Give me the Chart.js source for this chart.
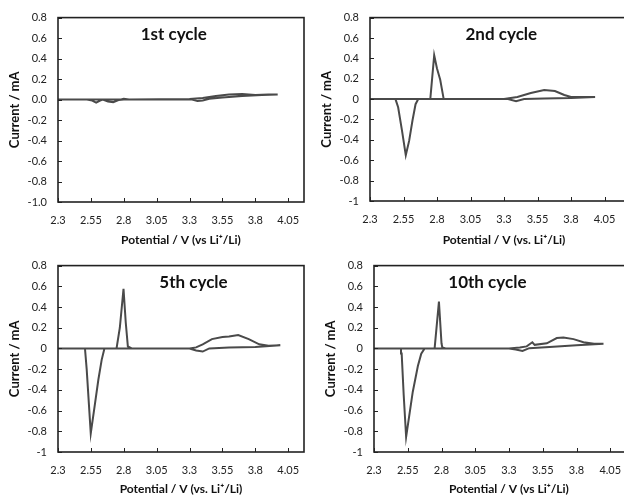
<!DOCTYPE html>
<html>
<head>
<meta charset="utf-8">
<script src="https://cdn.jsdelivr.net/npm/chart.js@4.4.0/dist/chart.umd.min.js"></script>
<style>
  html, body { margin: 0; padding: 0; background: #fff; overflow: hidden; }
  body { width: 624px; height: 497px; position: relative; }
  canvas { position: absolute; }
</style>
</head>
<body>
<canvas id="c1" width="312" height="248" style="left:0;top:0"></canvas>
<canvas id="c2" width="334" height="248" style="left:312px;top:0"></canvas>
<canvas id="c5" width="312" height="249" style="left:0;top:248px"></canvas>
<canvas id="c10" width="336" height="249" style="left:316px;top:248px"></canvas>
<script>
// tick labels on the potential axis
const xTickValues = [2.3, 2.55, 2.8, 3.05, 3.3, 3.55, 3.8, 4.05];

// 1st cycle: cathodic sweep from 3.97 V down to 2.3 V, then anodic sweep back
const cycle1Potential = [3.97, 3.85, 3.7, 3.55, 3.45, 3.4, 3.36, 3.32, 3.0, 2.8, 2.76, 2.72, 2.68, 2.64, 2.62, 2.59, 2.56, 2.52, 2.3,
  2.3, 2.78, 2.8, 2.84, 3.3, 3.4, 3.5, 3.6, 3.7, 3.8, 3.9, 3.97];
const cycle1Current = [0.05, 0.045, 0.035, 0.02, 0.008, -0.01, -0.015, 0, 0, 0, -0.005, -0.025, -0.02, 0, -0.01, -0.03, -0.01, 0, 0,
  0, 0, 0.008, 0, 0.005, 0.015, 0.035, 0.05, 0.055, 0.045, 0.05, 0.05];

// 2nd cycle
const cycle2Potential = [3.98, 3.8, 3.6, 3.45, 3.39, 3.33, 3.0, 2.66, 2.64, 2.617, 2.592, 2.567, 2.54, 2.51, 2.49, 2.3,
  2.3, 2.75, 2.779, 2.8, 2.824, 2.85, 3.3, 3.4, 3.5, 3.6, 3.68, 3.75, 3.8, 3.9, 3.98];
const cycle2Current = [0.02, 0.01, 0.005, 0, -0.02, 0, 0, 0, -0.05, -0.21, -0.41, -0.55, -0.32, -0.08, 0, 0,
  0, 0, 0.43, 0.3, 0.19, 0, 0, 0.02, 0.06, 0.09, 0.08, 0.04, 0.02, 0.02, 0.02];

// 5th cycle
const cycle5Potential = [3.99, 3.8, 3.6, 3.45, 3.4, 3.35, 3.3, 2.8, 2.653, 2.632, 2.607, 2.582, 2.549, 2.518, 2.505, 2.3,
  2.3, 2.745, 2.77, 2.798, 2.815, 2.831, 2.86, 3.3, 3.35, 3.4, 3.47, 3.55, 3.6, 3.67, 3.75, 3.83, 3.9, 3.99];
const cycle5Current = [0.03, 0.015, 0.008, 0, -0.03, -0.02, 0, 0, 0, -0.11, -0.3, -0.525, -0.82, -0.2, 0, 0,
  0, 0, 0.2, 0.575, 0.25, 0.02, 0, 0, 0.01, 0.04, 0.09, 0.11, 0.115, 0.13, 0.09, 0.04, 0.025, 0.03];

// 10th cycle
const cycle10Potential = [4.0, 3.8, 3.6, 3.45, 3.4, 3.35, 3.3, 2.8, 2.675, 2.65, 2.625, 2.587, 2.538, 2.52, 2.505, 2.5, 2.3,
  2.3, 2.749, 2.781, 2.8, 2.806, 2.83, 3.3, 3.38, 3.431, 3.473, 3.49, 3.58, 3.654, 3.703, 3.778, 3.852, 3.93, 4.0];
const cycle10Current = [0.045, 0.03, 0.015, 0.003, -0.025, -0.01, 0, 0, 0, -0.05, -0.17, -0.42, -0.855, -0.45, -0.05, 0, 0,
  0, 0, 0.452, 0.05, 0.01, 0, 0, 0.01, 0.02, 0.06, 0.035, 0.05, 0.1, 0.105, 0.09, 0.06, 0.045, 0.045];

const panelTitles = ["1st cycle", "2nd cycle", "5th cycle", "10th cycle"];
const xTitles = ["Potential / V (vs Li\u207A/Li)", "Potential / V (vs. Li\u207A/Li)",
  "Potential / V (vs. Li\u207A/Li)", "Potential / V (vs Li\u207A/Li)"];

const FONT = "Lato, 'Open Sans', sans-serif";
const INK = "#222";

const framePlugin = {
  id: "frame",
  afterDraw(chart, args, opts) {
    const { ctx, chartArea: a, scales } = chart;
    ctx.save();
    ctx.strokeStyle = INK;
    ctx.lineWidth = 1;
    // inward tick marks
    ctx.beginPath();
    scales.x.ticks.forEach(t => {
      const px = Math.round(scales.x.getPixelForValue(t.value)) + 0.5;
      ctx.moveTo(px, a.bottom);
      ctx.lineTo(px, a.bottom - 4);
    });
    scales.y.ticks.forEach(t => {
      const py = Math.round(scales.y.getPixelForValue(t.value)) + 0.5;
      ctx.moveTo(a.left, py);
      ctx.lineTo(a.left + 4, py);
    });
    ctx.stroke();
    ctx.lineWidth = 1.6;
    ctx.strokeRect(a.left, a.top, a.right - a.left, a.bottom - a.top);
    // panel label
    ctx.fillStyle = "#111";
    ctx.font = "bold 17px " + FONT;
    ctx.textAlign = "center";
    ctx.textBaseline = "middle";
    ctx.fillText(opts.text, scales.x.getPixelForValue(opts.at), a.top + 17);
    ctx.restore();
  }
};

function makePanel(id, potential, current, idx, xMax, oneDecimal, xAxisHeight) {
  new Chart(document.getElementById(id), {
    type: "scatter",
    data: {
      datasets: [{
        data: potential.map((v, i) => ({ x: v, y: current[i] })),
        showLine: true,
        borderColor: "#4a4a4a",
        borderWidth: 2,
        pointRadius: 0,
        tension: 0
      }]
    },
    options: {
      responsive: false,
      animation: false,
      layout: { padding: { top: 16, right: 8, left: 0, bottom: 0 } },
      plugins: {
        legend: { display: false },
        tooltip: { enabled: false },
        frame: { text: panelTitles[idx], at: [3.18, 3.28, 3.33, 3.14][idx] }
      },
      scales: {
        x: {
          type: "linear",
          min: 2.3,
          max: xMax,
          afterBuildTicks: s => { s.ticks = xTickValues.map(v => ({ value: v })); },
          afterFit: s => { s.height = xAxisHeight; },
          grid: { display: false, drawTicks: false },
          border: { display: false },
          ticks: {
            padding: 12,
            color: INK,
            font: { family: FONT, size: 11 },
            maxRotation: 0,
            callback: v => String(v)
          },
          title: {
            display: true,
            text: xTitles[idx],
            color: "#111",
            font: { family: FONT, size: 12, weight: "bold" },
            padding: { top: 0, bottom: 1 }
          }
        },
        y: {
          min: -1,
          max: 0.8,
          afterFit: s => { s.width = 58; },
          grid: { display: false, drawTicks: false },
          border: { display: false },
          ticks: {
            stepSize: 0.2,
            padding: 11,
            color: INK,
            font: { family: FONT, size: 11 },
            callback: v => oneDecimal ? Number(v).toFixed(1) : String(Math.round(v * 10) / 10)
          },
          title: {
            display: true,
            text: "Current / mA",
            color: "#111",
            font: { family: FONT, size: 13, weight: "bold" },
            padding: { top: 7, bottom: 0 }
          }
        }
      }
    },
    plugins: [framePlugin]
  });
}

makePanel("c1", cycle1Potential, cycle1Current, 0, 4.17, true, 46);
makePanel("c2", cycle2Potential, cycle2Current, 1, 4.3, false, 47);
makePanel("c5", cycle5Potential, cycle5Current, 2, 4.17, false, 45);
makePanel("c10", cycle10Potential, cycle10Current, 3, 4.3, false, 45);
</script>
</body>
</html>
